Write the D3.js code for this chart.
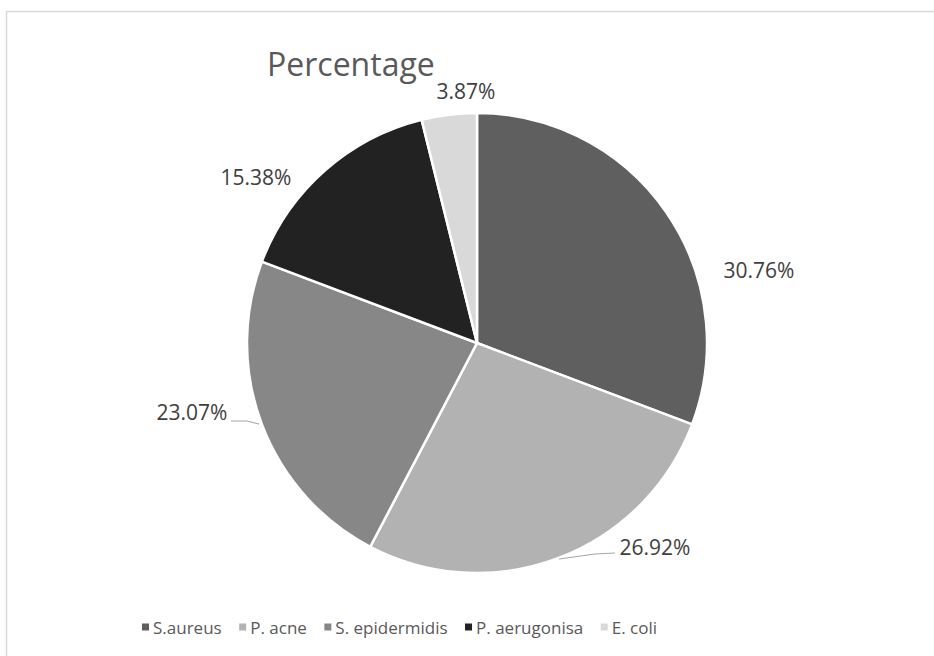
<!DOCTYPE html>
<html><head><meta charset="utf-8">
<script src="https://cdn.jsdelivr.net/npm/d3@7"></script>
<style>body{margin:0;background:#fff;}svg{display:block;font-family:"Open Sans",sans-serif;}</style>
</head><body>
<script>
const categories = ["S.aureus", "P. acne", "S. epidermidis", "P. aerugonisa", "E. coli"];
const values = [30.76, 26.92, 23.07, 15.38, 3.87];
const labels = ["30.76%", "26.92%", "23.07%", "15.38%", "3.87%"];
const colors = ["#5f5f5f", "#b2b2b2", "#878787", "#222222", "#d9d9d9"];
const title = "Percentage";

const W = 934, H = 656;
const svg = d3.select("body").append("svg").attr("width", W).attr("height", H);
svg.append("rect").attr("width", W).attr("height", H).attr("fill", "#fff");
// chart border (partly off-canvas)
svg.append("rect").attr("x", 6.5).attr("y", 11.5).attr("width", W + 10).attr("height", H + 10)
  .attr("fill", "none").attr("stroke", "#d9d9d9").attr("stroke-width", 1.5);

const cx = 477, cy = 343, R = 230;
const data = categories.map((c, i) => ({cat: c, value: values[i], label: labels[i], color: colors[i]}));
const pie = d3.pie().value(d => d.value).sort(null);
const arcs = pie(data);
const arc = d3.arc().innerRadius(0).outerRadius(R);
const g = svg.append("g").attr("transform", `translate(${cx},${cy})`);
g.selectAll("path").data(arcs).join("path")
  .attr("d", arc).attr("fill", d => d.data.color)
  .attr("stroke", "#fff").attr("stroke-width", 2.5).attr("stroke-linejoin", "round");

// title
svg.append("text").attr("x", 267).attr("y", 76).attr("font-size", 32).attr("fill", "#595959").text(title);

// data label centres (relative to pie centre)
const labelCenters = [[282, -73], [178, 204], [-285, 69], [-221, -166], [-11, -252]];
g.selectAll("text.lab").data(arcs).join("text").attr("class", "lab")
  .attr("font-size", 21).attr("fill", "#404040").attr("dominant-baseline", "central").attr("text-anchor", "middle")
  .attr("x", (d, i) => labelCenters[i][0]).attr("y", (d, i) => labelCenters[i][1])
  .text(d => d.data.label);

// leader lines for labels 26.92% and 23.07%
const leader = [
  null,
  [[138, 210], [118, 211], [82, 216]],
  [[-246, 78], [-230, 78], [-218, 81]],
  null, null
];
const line = d3.line();
leader.forEach(l => {
  if (l) g.append("path").attr("d", line(l)).attr("fill", "none").attr("stroke", "#a6a6a6").attr("stroke-width", 1.2);
});

// legend
const leg = svg.append("g").attr("transform", "translate(142,627)");
let lx = 0;
data.forEach(d => {
  const it = leg.append("g").attr("transform", `translate(${lx},0)`);
  it.append("rect").attr("x", 0).attr("y", -3.5).attr("width", 7).attr("height", 7).attr("fill", d.color);
  const t = it.append("text").attr("x", 11).attr("y", 0).attr("dominant-baseline", "central")
    .attr("font-size", 17).attr("fill", "#595959").text(d.cat);
  lx += 11 + t.node().getComputedTextLength() + 17.5;
});
</script>
</body></html>
